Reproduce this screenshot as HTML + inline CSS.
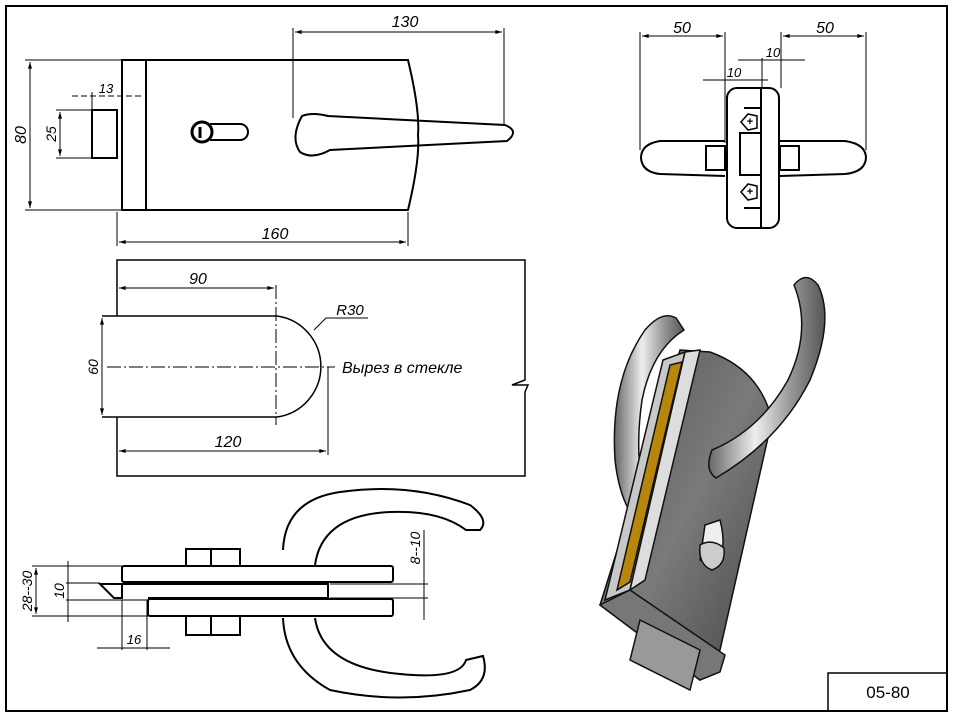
<!DOCTYPE html>
<html><head><meta charset="utf-8"><style>
html,body{margin:0;padding:0;background:#fff;width:957px;height:720px;overflow:hidden}
svg{display:block}
text{font-family:"Liberation Sans",sans-serif;font-style:italic;fill:#000}
</style></head><body>
<svg width="957" height="720" viewBox="0 0 957 720" xmlns="http://www.w3.org/2000/svg">
<defs>
<marker id="a" viewBox="0 0 10 6" refX="10" refY="3" markerWidth="8" markerHeight="4" orient="auto-start-reverse"><path d="M0,0L10,3L0,6z" fill="#000"/></marker>
<linearGradient id="g1" x1="0" y1="0" x2="1" y2="1"><stop offset="0" stop-color="#555"/><stop offset="0.5" stop-color="#7a7a7a"/><stop offset="1" stop-color="#444"/></linearGradient>
<linearGradient id="g2" x1="0" y1="0" x2="1" y2="0"><stop offset="0" stop-color="#666"/><stop offset="0.4" stop-color="#eee"/><stop offset="0.7" stop-color="#999"/><stop offset="1" stop-color="#555"/></linearGradient>
</defs>
<rect x="6" y="6" width="941" height="705" fill="none" stroke="#000" stroke-width="2"/>
<rect x="828" y="673" width="119" height="38" fill="none" stroke="#000" stroke-width="1.5"/>
<text x="888" y="698" font-size="17" text-anchor="middle" style="font-style:normal">05-80</text>

<g fill="none" stroke="#000" stroke-width="2">
<path d="M122,60 L408,60 Q420,110 418,135 Q420,160 408,210 L122,210 Z"/>
<line x1="146" y1="60" x2="146" y2="210"/>
<rect x="92" y="110" width="25" height="48"/>
<circle cx="202" cy="132" r="10" stroke-width="3"/>
<path d="M210,124 L240,124 A8,8 0 0 1 240,140 L210,140"/>
<line x1="200" y1="127" x2="200" y2="138" stroke-width="3"/>
<path d="M302,116 Q312,112 328,116 L505,125 Q520,131 507,141 L330,150 Q312,160 300,152 Q290,138 302,116 Z"/>
</g>
<g stroke="#000" stroke-width="1" fill="none">
<line x1="25" y1="60" x2="122" y2="60"/><line x1="25" y1="210" x2="122" y2="210"/>
<line x1="30" y1="62" x2="30" y2="208" marker-start="url(#a)" marker-end="url(#a)"/>
<line x1="56" y1="110" x2="92" y2="110"/><line x1="56" y1="158" x2="92" y2="158"/>
<line x1="60" y1="112" x2="60" y2="156" marker-start="url(#a)" marker-end="url(#a)"/>
<line x1="72" y1="96" x2="142" y2="96" stroke-dasharray="6 3"/>
<line x1="92" y1="92" x2="92" y2="110"/>
<line x1="293" y1="28" x2="293" y2="118"/><line x1="504" y1="28" x2="504" y2="126"/>
<line x1="295" y1="32" x2="502" y2="32" marker-start="url(#a)" marker-end="url(#a)"/>
<line x1="117" y1="212" x2="117" y2="246"/><line x1="408" y1="212" x2="408" y2="246"/>
<line x1="119" y1="242" x2="406" y2="242" marker-start="url(#a)" marker-end="url(#a)"/>
</g>
<text x="405" y="27" font-size="16" text-anchor="middle">130</text>
<text x="275" y="239" font-size="16" text-anchor="middle">160</text>
<text x="106" y="93" font-size="13" text-anchor="middle">13</text>
<text transform="translate(26,135) rotate(-90)" font-size="16" text-anchor="middle">80</text>
<text transform="translate(56,134) rotate(-90)" font-size="14" text-anchor="middle">25</text>

<g fill="none" stroke="#000" stroke-width="1.5">
<path d="M117,316 L117,260 L525,260 L525,380 L512,385 L528,385 L525,392 L525,476 L117,476 L117,417"/>
<path d="M102,316 L277,316 A51,51 0 0 1 277,417 L102,417"/>
</g>
<g stroke="#000" stroke-width="1" fill="none">
<line x1="107" y1="367" x2="335" y2="367" stroke-dasharray="14 3 2 3"/>
<line x1="276" y1="285" x2="276" y2="425" stroke-dasharray="14 3 2 3"/>
<line x1="119" y1="288" x2="274" y2="288" marker-start="url(#a)" marker-end="url(#a)"/>
<line x1="328" y1="367" x2="328" y2="455"/>
<line x1="119" y1="451" x2="326" y2="451" marker-start="url(#a)" marker-end="url(#a)"/>
<line x1="102" y1="318" x2="102" y2="415" marker-start="url(#a)" marker-end="url(#a)"/>
<path d="M314,330 L326,318 L368,318"/>
</g>
<text x="198" y="284" font-size="16" text-anchor="middle">90</text>
<text x="228" y="447" font-size="16" text-anchor="middle">120</text>
<text x="350" y="315" font-size="15" text-anchor="middle">R30</text>
<text x="342" y="373" font-size="16">Вырез в стекле</text>
<text transform="translate(98,367) rotate(-90)" font-size="14" text-anchor="middle">60</text>

<g fill="none" stroke="#000" stroke-width="2">
<path d="M283,550 Q285,500 340,492 Q410,482 470,505 Q490,520 480,530 L466,530 Q440,510 390,512 Q322,515 315,565"/>
<path d="M283,618 Q285,665 330,690 Q400,705 470,690 Q490,680 483,656 L466,660 Q460,680 400,674 Q322,667 315,618"/>
<rect x="122" y="566" width="271" height="16" rx="2"/>
<rect x="148" y="599" width="245" height="17" rx="2"/>
<path d="M122,584 L328,584 L328,598 L148,598"/>
<line x1="122" y1="584" x2="122" y2="598"/>
<path d="M100,584 L122,584 L122,598 L114,598 Z"/>
<rect x="186" y="549" width="25" height="17"/><rect x="211" y="549" width="29" height="17"/>
<rect x="186" y="616" width="25" height="19"/><rect x="211" y="616" width="29" height="19"/>
</g>
<g stroke="#000" stroke-width="1" fill="none">
<line x1="32" y1="566" x2="122" y2="566"/><line x1="32" y1="616" x2="148" y2="616"/>
<line x1="36" y1="568" x2="36" y2="614" marker-start="url(#a)" marker-end="url(#a)"/>
<line x1="66" y1="583" x2="100" y2="583"/><line x1="66" y1="600" x2="148" y2="600"/>
<line x1="68" y1="561" x2="68" y2="622"/>
<line x1="330" y1="584" x2="428" y2="584"/><line x1="330" y1="598" x2="428" y2="598"/>
<line x1="424" y1="530" x2="424" y2="620"/>
<line x1="122" y1="600" x2="122" y2="650"/><line x1="147" y1="600" x2="147" y2="650"/>
<line x1="97" y1="648" x2="170" y2="648"/>
</g>
<text transform="translate(32,591) rotate(-90)" font-size="14" text-anchor="middle">28--30</text>
<text transform="translate(64,591) rotate(-90)" font-size="14" text-anchor="middle">10</text>
<text transform="translate(420,548) rotate(-90)" font-size="14" text-anchor="middle">8--10</text>
<text x="134" y="644" font-size="13" text-anchor="middle">16</text>

<g fill="none" stroke="#000" stroke-width="2">
<path d="M725,141 L660,141 Q641,144 641,158 Q642,172 660,174 L725,176"/>
<path d="M780,141 L845,141 Q866,144 866,158 Q865,172 845,174 L780,176"/>
<rect x="706" y="146" width="19" height="24"/><rect x="780" y="146" width="19" height="24"/>
<rect x="727" y="88" width="52" height="140" rx="10"/>
<line x1="761" y1="88" x2="761" y2="228"/>
<rect x="740" y="133" width="21" height="42"/>
<line x1="744" y1="108" x2="761" y2="108"/><line x1="744" y1="208" x2="761" y2="208"/>
</g>
<g stroke="#000" stroke-width="1.5" fill="none">
<path d="M741,122 L748,114 L757,116 L757,128 L748,130 Z"/>
<path d="M741,192 L748,184 L757,186 L757,198 L748,200 Z"/>
</g>
<text x="750" y="125" font-size="11" text-anchor="middle" style="font-style:normal;font-weight:bold">+</text>
<text x="750" y="195" font-size="11" text-anchor="middle" style="font-style:normal;font-weight:bold">+</text>
<g stroke="#000" stroke-width="1" fill="none">
<line x1="640" y1="32" x2="640" y2="150"/><line x1="725" y1="32" x2="725" y2="143"/>
<line x1="642" y1="36" x2="723" y2="36" marker-start="url(#a)" marker-end="url(#a)"/>
<line x1="781" y1="32" x2="781" y2="88"/><line x1="866" y1="32" x2="866" y2="150"/>
<line x1="783" y1="36" x2="864" y2="36" marker-start="url(#a)" marker-end="url(#a)"/>
<line x1="762" y1="58" x2="762" y2="88"/>
<line x1="738" y1="60" x2="805" y2="60"/>
<line x1="703" y1="80" x2="768" y2="80"/>
</g>
<text x="682" y="33" font-size="16" text-anchor="middle">50</text>
<text x="825" y="33" font-size="16" text-anchor="middle">50</text>
<text x="773" y="57" font-size="13" text-anchor="middle">10</text>
<text x="734" y="77" font-size="13" text-anchor="middle">10</text>

<g stroke="#111" stroke-width="1.5">
<path d="M676,318 Q662,310 645,330 Q610,380 615,460 Q620,505 640,525 L652,515 Q632,470 642,400 Q652,350 684,330 Z" fill="url(#g2)"/>
<path d="M680,350 L710,352 Q760,370 772,420 L720,650 L700,680 L600,605 Z" fill="url(#g1)"/>
<path d="M663,360 L685,352 L630,590 L605,600 Z" fill="#c8c8c8"/>
<path d="M670,365 L682,362 L630,582 L617,590 Z" fill="#b8860b"/>
<path d="M685,352 L700,350 L645,580 L630,590 Z" fill="#ddd"/>
<path d="M600,605 L630,590 L725,655 L720,672 L700,680 Z" fill="#777"/>
<path d="M640,620 L700,650 L690,690 L630,660 Z" fill="#999"/>
<path d="M705,525 L720,520 Q728,550 715,568 L700,560 Z" fill="#eee"/>
<path d="M700,545 Q712,538 724,548 Q726,565 712,570 Q698,565 700,545 Z" fill="#ccc"/>
<path d="M712,450 Q704,470 716,478 Q780,440 810,380 Q835,320 818,285 Q806,270 794,285 Q812,330 788,380 Q760,430 712,450 Z" fill="url(#g2)"/>
</g>
</svg>
</body></html>
